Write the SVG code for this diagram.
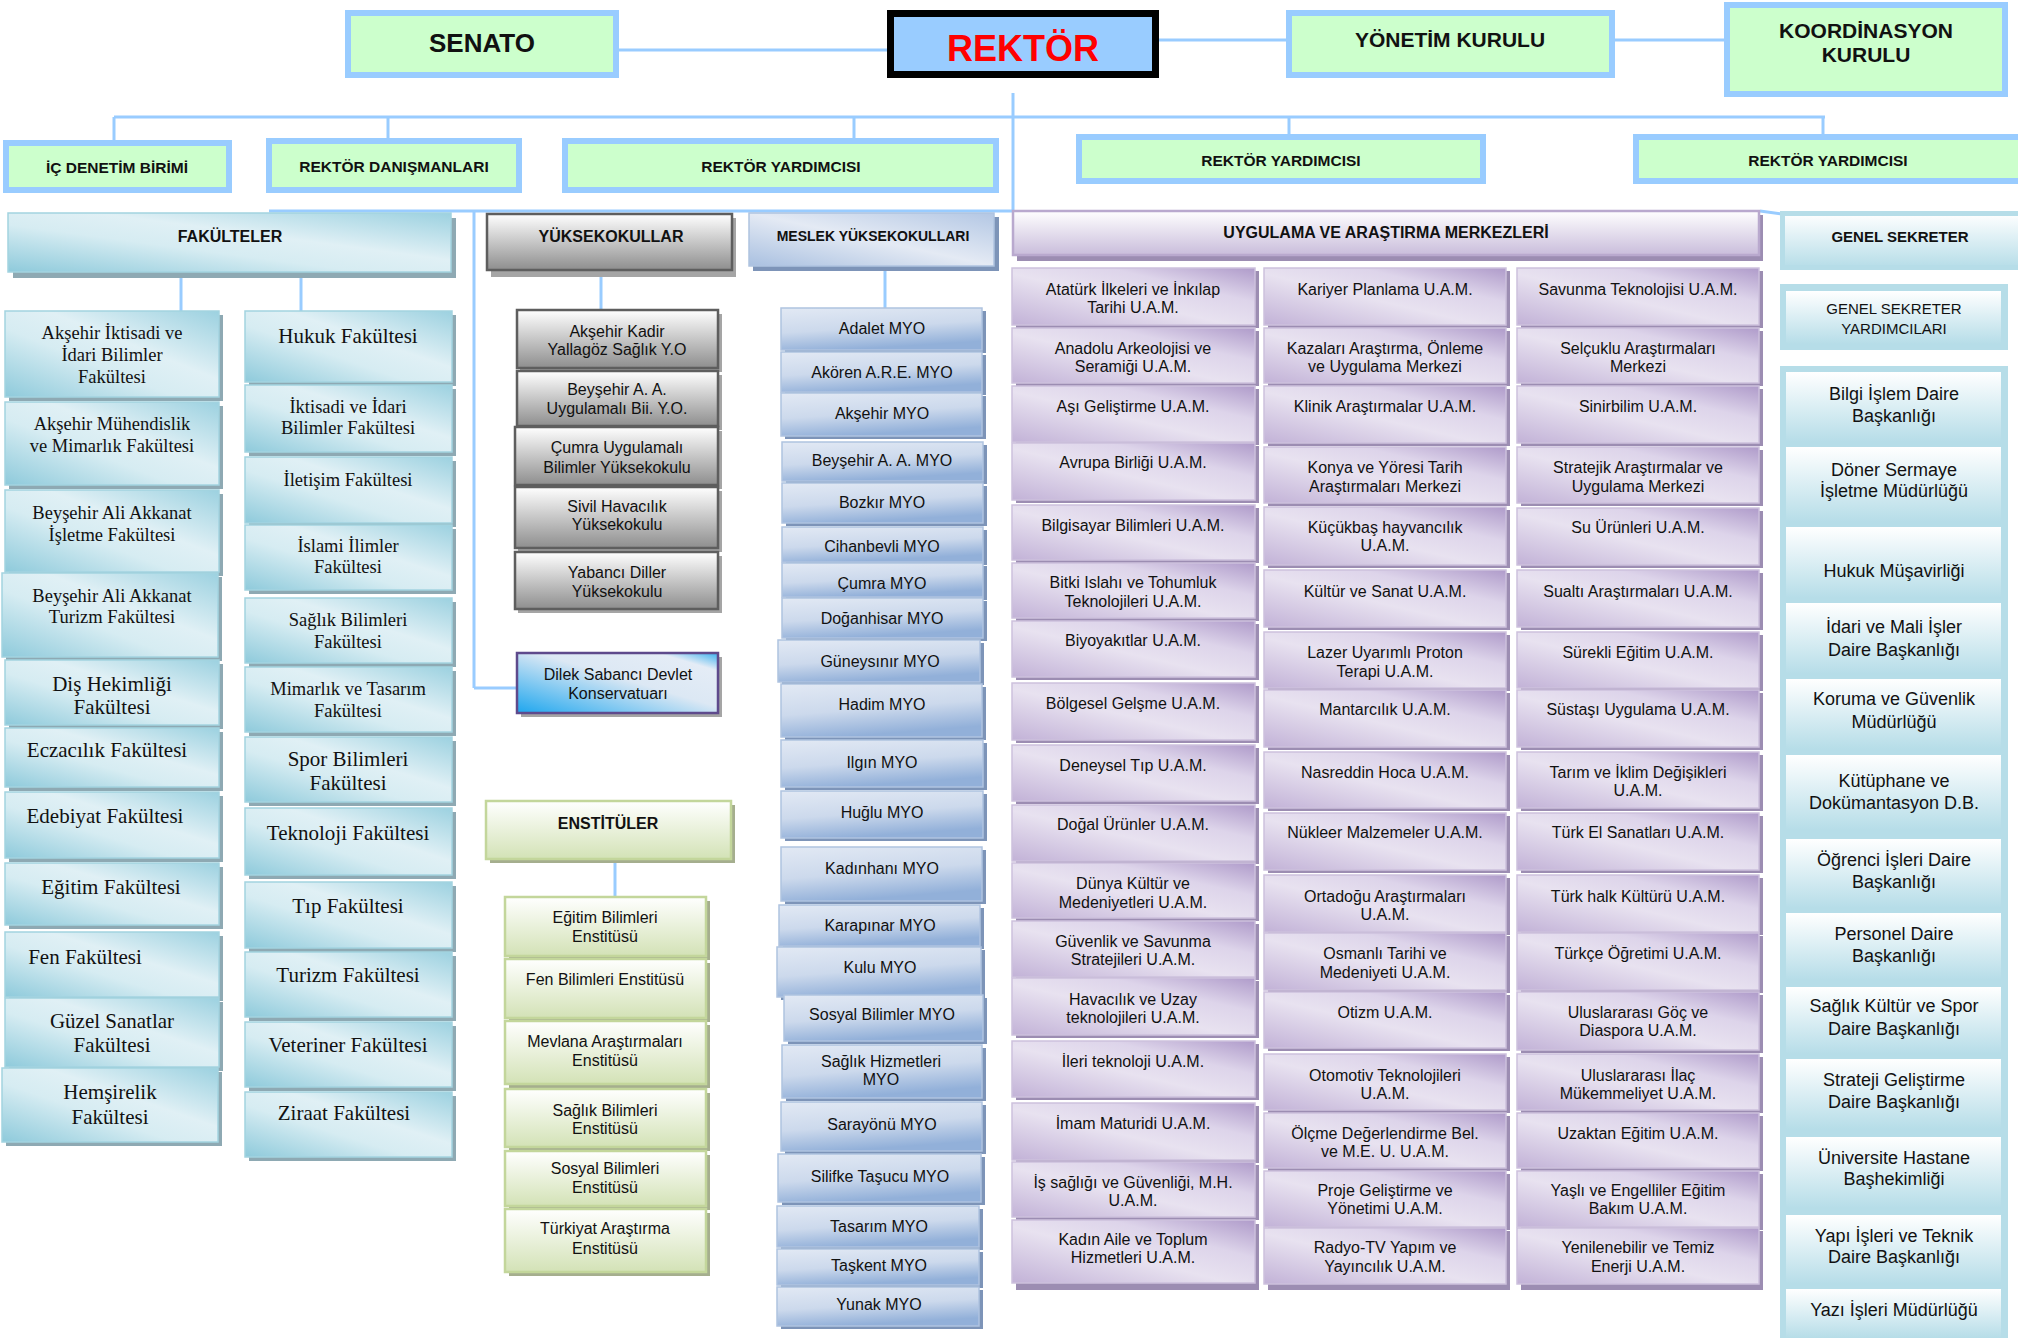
<svg xmlns="http://www.w3.org/2000/svg" width="2018" height="1338" viewBox="0 0 2018 1338">
<defs>
<linearGradient id="gFac" x1="0" y1="1" x2="1" y2="0"><stop offset="0" stop-color="#8ECADB"/><stop offset="0.4" stop-color="#D6ECF2"/><stop offset="0.6" stop-color="#E0F0F5"/><stop offset="1" stop-color="#9CD1E0"/></linearGradient>
<linearGradient id="gMyo" x1="0" y1="0" x2="0.3" y2="1"><stop offset="0" stop-color="#E2E9F4"/><stop offset="0.55" stop-color="#CCD9EC"/><stop offset="1" stop-color="#92B0D9"/></linearGradient>
<linearGradient id="gYo" x1="0" y1="0" x2="0" y2="1"><stop offset="0" stop-color="#FFFFFF"/><stop offset="1" stop-color="#8E8E8E"/></linearGradient>
<linearGradient id="gUam" x1="0" y1="1" x2="1" y2="0"><stop offset="0" stop-color="#C2B2D7"/><stop offset="0.45" stop-color="#E8E2F0"/><stop offset="0.7" stop-color="#DDD4EA"/><stop offset="1" stop-color="#AF9BCA"/></linearGradient>
<linearGradient id="gEns" x1="0" y1="0" x2="0" y2="1"><stop offset="0" stop-color="#FFFFFF"/><stop offset="1" stop-color="#D3E2B6"/></linearGradient>
<linearGradient id="gGs" x1="0" y1="0" x2="0" y2="1"><stop offset="0" stop-color="#FFFFFF"/><stop offset="1" stop-color="#B6DDE8"/></linearGradient>
<linearGradient id="gDilek" x1="0" y1="1" x2="1" y2="0"><stop offset="0" stop-color="#1DA6EE"/><stop offset="0.55" stop-color="#DCE8F4"/><stop offset="0.85" stop-color="#E4ECF6"/><stop offset="1" stop-color="#3AB0EE"/></linearGradient>
<linearGradient id="gMsl" x1="0" y1="1" x2="1" y2="0"><stop offset="0" stop-color="#A9C0E0"/><stop offset="0.5" stop-color="#E4EAF4"/><stop offset="1" stop-color="#B3C7E4"/></linearGradient>
<linearGradient id="gUamH" x1="0" y1="0" x2="0" y2="1"><stop offset="0" stop-color="#FFFFFF"/><stop offset="1" stop-color="#C9BDDB"/></linearGradient>
<style>
.top{fill:#CCFFCC;stroke:#99CCFF;stroke-width:6}
.ln{stroke:#99CCFF;stroke-width:3;fill:none}
.fac{fill:url(#gFac);stroke:#A3D3E0;stroke-width:1.5}
.sf{fill:#8EA9B3}
.yo{fill:url(#gYo);stroke:#5E5E5E;stroke-width:2.5}
.sy{fill:#A5A5A5}
.myo{fill:url(#gMyo);stroke:#AFC3E0;stroke-width:1.5}
.sm{fill:#7D94B8}
.ens{fill:url(#gEns);stroke:#C3D69B;stroke-width:2.5}
.se{fill:#A5AE8E}
.uam{fill:url(#gUam);stroke:#CDC1DD;stroke-width:1.5}
.su{fill:#9C8DB2}
.gs{fill:url(#gGs)}
text{font-family:"Liberation Sans",Arial,sans-serif;fill:#111;text-anchor:middle}
.s16{font-size:16px}
.s18{font-size:18px}
.s15{font-size:15px}
.b{font-weight:bold}
.r18{font-family:"Liberation Serif","Times New Roman",serif;font-size:18.5px}
.r21{font-family:"Liberation Serif","Times New Roman",serif;font-size:21px}
</style>
</defs>
<rect x="0" y="0" width="2018" height="1338" fill="#FFFFFF"/>

<g id="connectors">
<line class="ln" x1="619" y1="50" x2="887" y2="50"/>
<line class="ln" x1="1159" y1="40" x2="1286" y2="40"/>
<line class="ln" x1="1615" y1="40" x2="1724" y2="40"/>
<line class="ln" x1="1013" y1="93" x2="1013" y2="212"/>
<line class="ln" x1="114" y1="117" x2="1825" y2="117"/>
<line class="ln" x1="114" y1="117" x2="114" y2="140"/>
<line class="ln" x1="388" y1="117" x2="388" y2="138"/>
<line class="ln" x1="854" y1="117" x2="854" y2="138"/>
<line class="ln" x1="1289" y1="117" x2="1289" y2="134"/>
<line class="ln" x1="1823" y1="117" x2="1823" y2="134"/>
<line class="ln" x1="269" y1="211" x2="1013" y2="211"/>
<line class="ln" x1="474" y1="211" x2="474" y2="688"/>
<line class="ln" x1="474" y1="688" x2="517" y2="688"/>
<line class="ln" x1="1760" y1="211" x2="1782" y2="214"/>
<line class="ln" x1="181" y1="276" x2="181" y2="311"/>
<line class="ln" x1="301" y1="276" x2="301" y2="311"/>
<line class="ln" x1="601" y1="273" x2="601" y2="310"/>
<line class="ln" x1="885" y1="270" x2="885" y2="308"/>
<line class="ln" x1="615" y1="859" x2="615" y2="897"/>
</g>

<g id="senato"><rect class="top" x="348" y="13" width="268" height="62"/><text class="b" style="font-size:26px" x="482" y="52">SENATO</text></g>
<g id="rektor"><rect x="890.5" y="13.5" width="265" height="61" fill="#99CCFF" stroke="#000000" stroke-width="7"/><text class="b" style="font-size:36px;fill:#FF0000" x="1023" y="61">REKTÖR</text></g>
<g id="yonetim"><rect class="top" x="1289" y="13" width="323" height="62"/><text class="b" style="font-size:21px" x="1450" y="47">YÖNETİM KURULU</text></g>
<g id="koordinasyon"><rect class="top" x="1727" y="5" width="278" height="89"/><text class="b" style="font-size:21px"><tspan x="1866" y="38">KOORDİNASYON</tspan><tspan x="1866" y="62">KURULU</tspan></text></g>

<g id="ic-denetim"><rect class="top" x="6" y="143" width="223" height="47"/><text class="b" style="font-size:15.5px" x="117" y="173">İÇ DENETİM BİRİMİ</text></g>
<g id="rektor-danismanlari"><rect class="top" x="269" y="141" width="250" height="49"/><text class="b" style="font-size:15.5px" x="394" y="172">REKTÖR DANIŞMANLARI</text></g>
<g id="rektor-yrd-1"><rect class="top" x="565" y="141" width="431" height="49"/><text class="b" style="font-size:15.5px" x="781" y="172">REKTÖR YARDIMCISI</text></g>
<g id="rektor-yrd-2"><rect class="top" x="1079" y="137" width="404" height="44"/><text class="b" style="font-size:15.5px" x="1281" y="166">REKTÖR YARDIMCISI</text></g>
<g id="rektor-yrd-3"><rect class="top" x="1636" y="137" width="385" height="44"/><text class="b" style="font-size:15.5px" x="1828" y="166">REKTÖR YARDIMCISI</text></g>

<g id="fakulteler"><rect class="sf" x="13" y="218" width="443" height="60"/><rect class="fac" x="8" y="213" width="443" height="59"/><text class="b s16" x="230" y="242">FAKÜLTELER</text></g>
<g id="yuksekokullar"><rect class="sy" x="491" y="218" width="245" height="59"/><rect class="yo" x="487" y="214" width="245" height="56"/><text class="b s16" x="611" y="242">YÜKSEKOKULLAR</text></g>
<g id="meslek-yuksekokullari"><rect class="sm" x="753" y="217" width="246" height="54"/><rect class="myo" style="fill:url(#gMsl)" x="749" y="213" width="245" height="53"/><text class="b" style="font-size:14px" x="873" y="241">MESLEK YÜKSEKOKULLARI</text></g>
<g id="uam-baslik"><rect class="su" x="1017" y="215" width="746" height="46"/><rect x="1013" y="211" width="746" height="44" fill="url(#gUamH)" stroke="#B9A9CE" stroke-width="2.5"/><text class="b s16" x="1386" y="238">UYGULAMA VE ARAŞTIRMA MERKEZLERİ</text></g>
<g id="genel-sekreter"><rect class="gs" x="1782.5" y="213.5" width="238" height="54" stroke="#B6DDE8" stroke-width="5"/><text class="b s15" x="1900" y="242">GENEL SEKRETER</text></g>

<g id="fak-l1"><rect class="sf" x="9" y="315" width="214" height="86"/><rect class="fac" x="5" y="311" width="214" height="86"/><text class="r18"><tspan x="112" y="339">Akşehir İktisadi ve</tspan><tspan x="112" y="361">İdari Bilimler</tspan><tspan x="112" y="383">Fakültesi</tspan></text></g>
<g id="fak-l2"><rect class="sf" x="9" y="406" width="214" height="83"/><rect class="fac" x="5" y="402" width="214" height="83"/><text class="r18"><tspan x="112" y="430">Akşehir Mühendislik</tspan><tspan x="112" y="452">ve Mimarlık Fakültesi</tspan></text></g>
<g id="fak-l3"><rect class="sf" x="9" y="494" width="214" height="82"/><rect class="fac" x="5" y="490" width="214" height="82"/><text class="r18"><tspan x="112" y="519">Beyşehir Ali Akkanat</tspan><tspan x="112" y="541">İşletme Fakültesi</tspan></text></g>
<g id="fak-l4"><rect class="sf" x="6" y="577" width="216" height="84"/><rect class="fac" x="2" y="573" width="216" height="84"/><text class="r18"><tspan x="112" y="602">Beyşehir Ali Akkanat</tspan><tspan x="112" y="623">Turizm Fakültesi</tspan></text></g>
<g id="fak-l5"><rect class="sf" x="9" y="664" width="214" height="65"/><rect class="fac" x="5" y="660" width="214" height="65"/><text class="r21"><tspan x="112" y="691">Diş Hekimliği</tspan><tspan x="112" y="714">Fakültesi</tspan></text></g>
<g id="fak-l6"><rect class="sf" x="9" y="732" width="214" height="59"/><rect class="fac" x="5" y="728" width="214" height="59"/><text class="r21" x="107" y="757">Eczacılık Fakültesi</text></g>
<g id="fak-l7"><rect class="sf" x="9" y="796" width="214" height="66"/><rect class="fac" x="5" y="792" width="214" height="66"/><text class="r21" x="105" y="823">Edebiyat Fakültesi</text></g>
<g id="fak-l8"><rect class="sf" x="9" y="867" width="214" height="62"/><rect class="fac" x="5" y="863" width="214" height="62"/><text class="r21" x="111" y="894">Eğitim Fakültesi</text></g>
<g id="fak-l9"><rect class="sf" x="9" y="936" width="214" height="65"/><rect class="fac" x="5" y="932" width="214" height="65"/><text class="r21" x="85" y="964">Fen Fakültesi</text></g>
<g id="fak-l10"><rect class="sf" x="9" y="1002" width="214" height="69"/><rect class="fac" x="5" y="998" width="214" height="69"/><text class="r21"><tspan x="112" y="1028">Güzel Sanatlar</tspan><tspan x="112" y="1052">Fakültesi</tspan></text></g>
<g id="fak-l11"><rect class="sf" x="6" y="1072" width="216" height="74"/><rect class="fac" x="2" y="1068" width="216" height="74"/><text class="r21"><tspan x="110" y="1099">Hemşirelik</tspan><tspan x="110" y="1124">Fakültesi</tspan></text></g>

<g id="fak-r1"><rect class="sf" x="249" y="315" width="207" height="71"/><rect class="fac" x="245" y="311" width="207" height="71"/><text class="r21" x="348" y="343">Hukuk Fakültesi</text></g>
<g id="fak-r2"><rect class="sf" x="249" y="389" width="207" height="67"/><rect class="fac" x="245" y="385" width="207" height="67"/><text class="r18"><tspan x="348" y="413">İktisadi ve İdari</tspan><tspan x="348" y="434">Bilimler Fakültesi</tspan></text></g>
<g id="fak-r3"><rect class="sf" x="249" y="461" width="207" height="66"/><rect class="fac" x="245" y="457" width="207" height="66"/><text class="r18" x="348" y="486">İletişim Fakültesi</text></g>
<g id="fak-r4"><rect class="sf" x="249" y="529" width="207" height="65"/><rect class="fac" x="245" y="525" width="207" height="65"/><text class="r18"><tspan x="348" y="552">İslami İlimler</tspan><tspan x="348" y="573">Fakültesi</tspan></text></g>
<g id="fak-r5"><rect class="sf" x="249" y="602" width="207" height="65"/><rect class="fac" x="245" y="598" width="207" height="65"/><text class="r18"><tspan x="348" y="626">Sağlık Bilimleri</tspan><tspan x="348" y="648">Fakültesi</tspan></text></g>
<g id="fak-r6"><rect class="sf" x="249" y="671" width="207" height="65"/><rect class="fac" x="245" y="667" width="207" height="65"/><text class="r18"><tspan x="348" y="695">Mimarlık ve Tasarım</tspan><tspan x="348" y="717">Fakültesi</tspan></text></g>
<g id="fak-r7"><rect class="sf" x="249" y="741" width="207" height="65"/><rect class="fac" x="245" y="737" width="207" height="65"/><text class="r21"><tspan x="348" y="766">Spor Bilimleri</tspan><tspan x="348" y="790">Fakültesi</tspan></text></g>
<g id="fak-r8"><rect class="sf" x="249" y="812" width="207" height="67"/><rect class="fac" x="245" y="808" width="207" height="67"/><text class="r21" x="348" y="840">Teknoloji Fakültesi</text></g>
<g id="fak-r9"><rect class="sf" x="249" y="886" width="207" height="66"/><rect class="fac" x="245" y="882" width="207" height="66"/><text class="r21" x="348" y="913">Tıp Fakültesi</text></g>
<g id="fak-r10"><rect class="sf" x="249" y="956" width="207" height="65"/><rect class="fac" x="245" y="952" width="207" height="65"/><text class="r21" x="348" y="982">Turizm Fakültesi</text></g>
<g id="fak-r11"><rect class="sf" x="249" y="1026" width="207" height="65"/><rect class="fac" x="245" y="1022" width="207" height="65"/><text class="r21" x="348" y="1052">Veteriner Fakültesi</text></g>
<g id="fak-r12"><rect class="sf" x="249" y="1096" width="207" height="65"/><rect class="fac" x="245" y="1092" width="207" height="65"/><text class="r21" x="344" y="1120">Ziraat Fakültesi</text></g>

<g id="yo-1"><rect class="sy" x="520" y="314" width="202" height="58"/><rect class="yo" x="517" y="310" width="201" height="58"/><text class="s16"><tspan x="617" y="337">Akşehir Kadir</tspan><tspan x="617" y="355">Yallagöz Sağlık Y.O</tspan></text></g>
<g id="yo-2"><rect class="sy" x="520" y="375" width="202" height="55"/><rect class="yo" x="517" y="371" width="201" height="55"/><text class="s16"><tspan x="617" y="395">Beyşehir A. A.</tspan><tspan x="617" y="414">Uygulamalı Bii. Y.O.</tspan></text></g>
<g id="yo-3"><rect class="sy" x="518" y="431" width="204" height="58"/><rect class="yo" x="515" y="427" width="203" height="58"/><text class="s16"><tspan x="617" y="453">Çumra Uygulamalı</tspan><tspan x="617" y="473">Bilimler Yüksekokulu</tspan></text></g>
<g id="yo-4"><rect class="sy" x="518" y="491" width="204" height="61"/><rect class="yo" x="515" y="487" width="203" height="61"/><text class="s16"><tspan x="617" y="512">Sivil Havacılık</tspan><tspan x="617" y="530">Yüksekokulu</tspan></text></g>
<g id="yo-5"><rect class="sy" x="518" y="556" width="204" height="57"/><rect class="yo" x="515" y="552" width="203" height="57"/><text class="s16"><tspan x="617" y="578">Yabancı Diller</tspan><tspan x="617" y="597">Yüksekokulu</tspan></text></g>
<g id="konservatuar"><rect class="sy" x="521" y="657" width="201" height="60"/><rect x="517" y="653" width="201" height="60" fill="url(#gDilek)" stroke="#5E4A8C" stroke-width="2.5"/><text class="s16"><tspan x="618" y="680">Dilek Sabancı Devlet</tspan><tspan x="618" y="699">Konservatuarı</tspan></text></g>

<g id="ens-baslik"><rect class="se" x="490" y="805" width="245" height="58"/><rect class="ens" x="486" y="801" width="245" height="58"/><text class="b s16" x="608" y="829">ENSTİTÜLER</text></g>
<g id="ens-1"><rect class="se" x="509" y="901" width="201" height="59"/><rect class="ens" x="505" y="897" width="201" height="59"/><text class="s16"><tspan x="605" y="923">Eğitim Bilimleri</tspan><tspan x="605" y="942">Enstitüsü</tspan></text></g>
<g id="ens-2"><rect class="se" x="509" y="963" width="201" height="59"/><rect class="ens" x="505" y="959" width="201" height="59"/><text class="s16" x="605" y="985">Fen Bilimleri Enstitüsü</text></g>
<g id="ens-3"><rect class="se" x="509" y="1025" width="201" height="63"/><rect class="ens" x="505" y="1021" width="201" height="63"/><text class="s16"><tspan x="605" y="1047">Mevlana Araştırmaları</tspan><tspan x="605" y="1066">Enstitüsü</tspan></text></g>
<g id="ens-4"><rect class="se" x="509" y="1093" width="201" height="58"/><rect class="ens" x="505" y="1089" width="201" height="58"/><text class="s16"><tspan x="605" y="1116">Sağlık Bilimleri</tspan><tspan x="605" y="1134">Enstitüsü</tspan></text></g>
<g id="ens-5"><rect class="se" x="509" y="1155" width="201" height="55"/><rect class="ens" x="505" y="1151" width="201" height="55"/><text class="s16"><tspan x="605" y="1174">Sosyal Bilimleri</tspan><tspan x="605" y="1193">Enstitüsü</tspan></text></g>
<g id="ens-6"><rect class="se" x="509" y="1213" width="201" height="63"/><rect class="ens" x="505" y="1209" width="201" height="63"/><text class="s16"><tspan x="605" y="1234">Türkiyat Araştırma</tspan><tspan x="605" y="1254">Enstitüsü</tspan></text></g>

<g id="myo-1"><rect class="sm" x="785" y="311" width="201" height="42"/><rect class="myo" x="781" y="308" width="201" height="42"/><text class="s16" x="882" y="334">Adalet MYO</text></g>
<g id="myo-2"><rect class="sm" x="785" y="355" width="201" height="40"/><rect class="myo" x="781" y="352" width="201" height="40"/><text class="s16" x="882" y="378">Akören A.R.E. MYO</text></g>
<g id="myo-3"><rect class="sm" x="785" y="396" width="201" height="43"/><rect class="myo" x="781" y="393" width="201" height="43"/><text class="s16" x="882" y="419">Akşehir MYO</text></g>
<g id="myo-4"><rect class="sm" x="786" y="445" width="201" height="39"/><rect class="myo" x="782" y="442" width="201" height="39"/><text class="s16" x="882" y="466">Beyşehir A. A. MYO</text></g>
<g id="myo-5"><rect class="sm" x="786" y="486" width="201" height="40"/><rect class="myo" x="782" y="483" width="201" height="40"/><text class="s16" x="882" y="508">Bozkır MYO</text></g>
<g id="myo-6"><rect class="sm" x="786" y="530" width="201" height="35"/><rect class="myo" x="782" y="527" width="201" height="35"/><text class="s16" x="882" y="552">Cihanbevli MYO</text></g>
<g id="myo-7"><rect class="sm" x="786" y="566" width="201" height="34"/><rect class="myo" x="782" y="563" width="201" height="34"/><text class="s16" x="882" y="589">Çumra MYO</text></g>
<g id="myo-8"><rect class="sm" x="786" y="601" width="201" height="40"/><rect class="myo" x="782" y="598" width="201" height="40"/><text class="s16" x="882" y="624">Doğanhisar MYO</text></g>
<g id="myo-9"><rect class="sm" x="782" y="643" width="202" height="42"/><rect class="myo" x="778" y="640" width="202" height="42"/><text class="s16" x="880" y="667">Güneysınır MYO</text></g>
<g id="myo-10"><rect class="sm" x="785" y="687" width="201" height="53"/><rect class="myo" x="781" y="684" width="201" height="53"/><text class="s16" x="882" y="710">Hadim MYO</text></g>
<g id="myo-11"><rect class="sm" x="785" y="743" width="202" height="47"/><rect class="myo" x="781" y="740" width="202" height="47"/><text class="s16" x="882" y="768">Ilgın MYO</text></g>
<g id="myo-12"><rect class="sm" x="785" y="794" width="202" height="47"/><rect class="myo" x="781" y="791" width="202" height="47"/><text class="s16" x="882" y="818">Huğlu MYO</text></g>
<g id="myo-13"><rect class="sm" x="785" y="850" width="201" height="54"/><rect class="myo" x="781" y="847" width="201" height="54"/><text class="s16" x="882" y="874">Kadınhanı MYO</text></g>
<g id="myo-14"><rect class="sm" x="783" y="908" width="201" height="41"/><rect class="myo" x="779" y="905" width="201" height="41"/><text class="s16" x="880" y="931">Karapınar MYO</text></g>
<g id="myo-15"><rect class="sm" x="781" y="950" width="204" height="50"/><rect class="myo" x="777" y="947" width="204" height="50"/><text class="s16" x="880" y="973">Kulu MYO</text></g>
<g id="myo-16"><rect class="sm" x="788" y="998" width="199" height="46"/><rect class="myo" x="784" y="995" width="199" height="46"/><text class="s16" x="882" y="1020">Sosyal Bilimler MYO</text></g>
<g id="myo-17"><rect class="sm" x="786" y="1048" width="200" height="53"/><rect class="myo" x="782" y="1045" width="200" height="53"/><text class="s16"><tspan x="881" y="1067">Sağlık Hizmetleri</tspan><tspan x="881" y="1085">MYO</tspan></text></g>
<g id="myo-18"><rect class="sm" x="785" y="1105" width="201" height="49"/><rect class="myo" x="781" y="1102" width="201" height="49"/><text class="s16" x="882" y="1130">Sarayönü MYO</text></g>
<g id="myo-19"><rect class="sm" x="782" y="1157" width="203" height="48"/><rect class="myo" x="778" y="1154" width="203" height="48"/><text class="s16" x="880" y="1182">Silifke Taşucu MYO</text></g>
<g id="myo-20"><rect class="sm" x="781" y="1209" width="202" height="41"/><rect class="myo" x="777" y="1206" width="202" height="41"/><text class="s16" x="879" y="1232">Tasarım MYO</text></g>
<g id="myo-21"><rect class="sm" x="781" y="1252" width="202" height="36"/><rect class="myo" x="777" y="1249" width="202" height="36"/><text class="s16" x="879" y="1271">Taşkent MYO</text></g>
<g id="myo-22"><rect class="sm" x="781" y="1290" width="202" height="39"/><rect class="myo" x="777" y="1287" width="202" height="39"/><text class="s16" x="879" y="1310">Yunak MYO</text></g>

<g id="uam-1-1"><rect class="su" x="1016" y="271" width="243" height="57"/><rect class="uam" x="1012" y="268" width="243" height="57"/><text class="s16"><tspan x="1133" y="295">Atatürk İlkeleri ve İnkılap</tspan><tspan x="1133" y="313">Tarihi U.A.M.</tspan></text></g>
<g id="uam-1-2"><rect class="su" x="1016" y="331" width="243" height="55"/><rect class="uam" x="1012" y="328" width="243" height="55"/><text class="s16"><tspan x="1133" y="354">Anadolu Arkeolojisi ve</tspan><tspan x="1133" y="372">Seramiği U.A.M.</tspan></text></g>
<g id="uam-1-3"><rect class="su" x="1016" y="389" width="243" height="56"/><rect class="uam" x="1012" y="386" width="243" height="56"/><text class="s16" x="1133" y="412">Aşı Geliştirme U.A.M.</text></g>
<g id="uam-1-4"><rect class="su" x="1016" y="446" width="243" height="57"/><rect class="uam" x="1012" y="443" width="243" height="57"/><text class="s16" x="1133" y="468">Avrupa Birliği  U.A.M.</text></g>
<g id="uam-1-5"><rect class="su" x="1016" y="508" width="243" height="55"/><rect class="uam" x="1012" y="505" width="243" height="55"/><text class="s16" x="1133" y="531">Bilgisayar Bilimleri U.A.M.</text></g>
<g id="uam-1-6"><rect class="su" x="1016" y="566" width="243" height="55"/><rect class="uam" x="1012" y="563" width="243" height="55"/><text class="s16"><tspan x="1133" y="588">Bitki Islahı ve Tohumluk</tspan><tspan x="1133" y="607">Teknolojileri  U.A.M.</tspan></text></g>
<g id="uam-1-7"><rect class="su" x="1016" y="624" width="243" height="56"/><rect class="uam" x="1012" y="621" width="243" height="56"/><text class="s16" x="1133" y="646">Biyoyakıtlar  U.A.M.</text></g>
<g id="uam-1-8"><rect class="su" x="1016" y="686" width="243" height="57"/><rect class="uam" x="1012" y="683" width="243" height="57"/><text class="s16" x="1133" y="709">Bölgesel Gelşme U.A.M.</text></g>
<g id="uam-1-9"><rect class="su" x="1016" y="748" width="243" height="56"/><rect class="uam" x="1012" y="745" width="243" height="56"/><text class="s16" x="1133" y="771">Deneysel Tıp  U.A.M.</text></g>
<g id="uam-1-10"><rect class="su" x="1016" y="808" width="243" height="56"/><rect class="uam" x="1012" y="805" width="243" height="56"/><text class="s16" x="1133" y="830">Doğal Ürünler U.A.M.</text></g>
<g id="uam-1-11"><rect class="su" x="1016" y="866" width="243" height="55"/><rect class="uam" x="1012" y="863" width="243" height="55"/><text class="s16"><tspan x="1133" y="889">Dünya Kültür ve</tspan><tspan x="1133" y="908">Medeniyetleri U.A.M.</tspan></text></g>
<g id="uam-1-12"><rect class="su" x="1016" y="924" width="243" height="56"/><rect class="uam" x="1012" y="921" width="243" height="56"/><text class="s16"><tspan x="1133" y="947">Güvenlik ve Savunma</tspan><tspan x="1133" y="965">Stratejileri U.A.M.</tspan></text></g>
<g id="uam-1-13"><rect class="su" x="1016" y="981" width="243" height="57"/><rect class="uam" x="1012" y="978" width="243" height="57"/><text class="s16"><tspan x="1133" y="1005">Havacılık ve Uzay</tspan><tspan x="1133" y="1023">teknolojileri U.A.M.</tspan></text></g>
<g id="uam-1-14"><rect class="su" x="1016" y="1044" width="243" height="56"/><rect class="uam" x="1012" y="1041" width="243" height="56"/><text class="s16" x="1133" y="1067">İleri teknoloji U.A.M.</text></g>
<g id="uam-1-15"><rect class="su" x="1016" y="1106" width="243" height="57"/><rect class="uam" x="1012" y="1103" width="243" height="57"/><text class="s16" x="1133" y="1129">İmam Maturidi U.A.M.</text></g>
<g id="uam-1-16"><rect class="su" x="1016" y="1165" width="243" height="55"/><rect class="uam" x="1012" y="1162" width="243" height="55"/><text class="s16"><tspan x="1133" y="1188">İş sağlığı ve Güvenliği, M.H.</tspan><tspan x="1133" y="1206">U.A.M.</tspan></text></g>
<g id="uam-1-17"><rect class="su" x="1016" y="1224" width="243" height="66"/><rect class="uam" x="1012" y="1220" width="243" height="63"/><text class="s16"><tspan x="1133" y="1245">Kadın Aile ve Toplum</tspan><tspan x="1133" y="1263">Hizmetleri U.A.M.</tspan></text></g>

<g id="uam-2-1"><rect class="su" x="1268" y="271" width="242" height="57"/><rect class="uam" x="1264" y="268" width="242" height="57"/><text class="s16" x="1385" y="295">Kariyer Planlama U.A.M.</text></g>
<g id="uam-2-2"><rect class="su" x="1268" y="331" width="242" height="55"/><rect class="uam" x="1264" y="328" width="242" height="55"/><text class="s16"><tspan x="1385" y="354">Kazaları Araştırma, Önleme</tspan><tspan x="1385" y="372">ve Uygulama Merkezi</tspan></text></g>
<g id="uam-2-3"><rect class="su" x="1268" y="389" width="242" height="57"/><rect class="uam" x="1264" y="386" width="242" height="57"/><text class="s16" x="1385" y="412">Klinik Araştırmalar U.A.M.</text></g>
<g id="uam-2-4"><rect class="su" x="1268" y="450" width="242" height="56"/><rect class="uam" x="1264" y="447" width="242" height="56"/><text class="s16"><tspan x="1385" y="473">Konya ve Yöresi Tarih</tspan><tspan x="1385" y="492">Araştırmaları Merkezi</tspan></text></g>
<g id="uam-2-5"><rect class="su" x="1268" y="510" width="242" height="58"/><rect class="uam" x="1264" y="507" width="242" height="58"/><text class="s16"><tspan x="1385" y="533">Küçükbaş hayvancılık</tspan><tspan x="1385" y="551">U.A.M.</tspan></text></g>
<g id="uam-2-6"><rect class="su" x="1268" y="573" width="242" height="57"/><rect class="uam" x="1264" y="570" width="242" height="57"/><text class="s16" x="1385" y="597">Kültür ve Sanat U.A.M.</text></g>
<g id="uam-2-7"><rect class="su" x="1268" y="635" width="242" height="56"/><rect class="uam" x="1264" y="632" width="242" height="56"/><text class="s16"><tspan x="1385" y="658">Lazer Uyarımlı Proton</tspan><tspan x="1385" y="677">Terapi U.A.M.</tspan></text></g>
<g id="uam-2-8"><rect class="su" x="1268" y="693" width="242" height="57"/><rect class="uam" x="1264" y="690" width="242" height="57"/><text class="s16" x="1385" y="715">Mantarcılık  U.A.M.</text></g>
<g id="uam-2-9"><rect class="su" x="1268" y="755" width="242" height="56"/><rect class="uam" x="1264" y="752" width="242" height="56"/><text class="s16" x="1385" y="778">Nasreddin Hoca U.A.M.</text></g>
<g id="uam-2-10"><rect class="su" x="1268" y="816" width="242" height="57"/><rect class="uam" x="1264" y="813" width="242" height="57"/><text class="s16" x="1385" y="838">Nükleer Malzemeler U.A.M.</text></g>
<g id="uam-2-11"><rect class="su" x="1268" y="878" width="242" height="57"/><rect class="uam" x="1264" y="875" width="242" height="57"/><text class="s16"><tspan x="1385" y="902">Ortadoğu Araştırmaları</tspan><tspan x="1385" y="920">U.A.M.</tspan></text></g>
<g id="uam-2-12"><rect class="su" x="1268" y="936" width="242" height="57"/><rect class="uam" x="1264" y="933" width="242" height="57"/><text class="s16"><tspan x="1385" y="959">Osmanlı Tarihi ve</tspan><tspan x="1385" y="978">Medeniyeti U.A.M.</tspan></text></g>
<g id="uam-2-13"><rect class="su" x="1268" y="995" width="242" height="56"/><rect class="uam" x="1264" y="992" width="242" height="56"/><text class="s16" x="1385" y="1018">Otizm U.A.M.</text></g>
<g id="uam-2-14"><rect class="su" x="1268" y="1057" width="242" height="56"/><rect class="uam" x="1264" y="1054" width="242" height="56"/><text class="s16"><tspan x="1385" y="1081">Otomotiv Teknolojileri</tspan><tspan x="1385" y="1099">U.A.M.</tspan></text></g>
<g id="uam-2-15"><rect class="su" x="1268" y="1116" width="242" height="55"/><rect class="uam" x="1264" y="1113" width="242" height="55"/><text class="s16"><tspan x="1385" y="1139">Ölçme Değerlendirme Bel.</tspan><tspan x="1385" y="1157">ve M.E. U.  U.A.M.</tspan></text></g>
<g id="uam-2-16"><rect class="su" x="1268" y="1174" width="242" height="56"/><rect class="uam" x="1264" y="1171" width="242" height="56"/><text class="s16"><tspan x="1385" y="1196">Proje Geliştirme ve</tspan><tspan x="1385" y="1214">Yönetimi U.A.M.</tspan></text></g>
<g id="uam-2-17"><rect class="su" x="1268" y="1231" width="242" height="59"/><rect class="uam" x="1264" y="1228" width="242" height="56"/><text class="s16"><tspan x="1385" y="1253">Radyo-TV Yapım ve</tspan><tspan x="1385" y="1272">Yayıncılık U.A.M.</tspan></text></g>

<g id="uam-3-1"><rect class="su" x="1521" y="271" width="242" height="57"/><rect class="uam" x="1517" y="268" width="242" height="57"/><text class="s16" x="1638" y="295">Savunma Teknolojisi U.A.M.</text></g>
<g id="uam-3-2"><rect class="su" x="1521" y="331" width="242" height="55"/><rect class="uam" x="1517" y="328" width="242" height="55"/><text class="s16"><tspan x="1638" y="354">Selçuklu Araştırmaları</tspan><tspan x="1638" y="372">Merkezi</tspan></text></g>
<g id="uam-3-3"><rect class="su" x="1521" y="389" width="242" height="57"/><rect class="uam" x="1517" y="386" width="242" height="57"/><text class="s16" x="1638" y="412">Sinirbilim U.A.M.</text></g>
<g id="uam-3-4"><rect class="su" x="1521" y="450" width="242" height="56"/><rect class="uam" x="1517" y="447" width="242" height="56"/><text class="s16"><tspan x="1638" y="473">Stratejik Araştırmalar ve</tspan><tspan x="1638" y="492">Uygulama Merkezi</tspan></text></g>
<g id="uam-3-5"><rect class="su" x="1521" y="511" width="242" height="57"/><rect class="uam" x="1517" y="508" width="242" height="57"/><text class="s16" x="1638" y="533">Su Ürünleri  U.A.M.</text></g>
<g id="uam-3-6"><rect class="su" x="1521" y="573" width="242" height="57"/><rect class="uam" x="1517" y="570" width="242" height="57"/><text class="s16" x="1638" y="597">Sualtı Araştırmaları U.A.M.</text></g>
<g id="uam-3-7"><rect class="su" x="1521" y="635" width="242" height="56"/><rect class="uam" x="1517" y="632" width="242" height="56"/><text class="s16" x="1638" y="658">Sürekli Eğitim U.A.M.</text></g>
<g id="uam-3-8"><rect class="su" x="1521" y="693" width="242" height="57"/><rect class="uam" x="1517" y="690" width="242" height="57"/><text class="s16" x="1638" y="715">Süstaşı Uygulama U.A.M.</text></g>
<g id="uam-3-9"><rect class="su" x="1521" y="755" width="242" height="56"/><rect class="uam" x="1517" y="752" width="242" height="56"/><text class="s16"><tspan x="1638" y="778">Tarım ve İklim Değişikleri</tspan><tspan x="1638" y="796">U.A.M.</tspan></text></g>
<g id="uam-3-10"><rect class="su" x="1521" y="816" width="242" height="57"/><rect class="uam" x="1517" y="813" width="242" height="57"/><text class="s16" x="1638" y="838">Türk El Sanatları U.A.M.</text></g>
<g id="uam-3-11"><rect class="su" x="1521" y="878" width="242" height="57"/><rect class="uam" x="1517" y="875" width="242" height="57"/><text class="s16" x="1638" y="902">Türk halk Kültürü U.A.M.</text></g>
<g id="uam-3-12"><rect class="su" x="1521" y="936" width="242" height="57"/><rect class="uam" x="1517" y="933" width="242" height="57"/><text class="s16" x="1638" y="959">Türkçe Öğretimi U.A.M.</text></g>
<g id="uam-3-13"><rect class="su" x="1521" y="995" width="242" height="58"/><rect class="uam" x="1517" y="992" width="242" height="58"/><text class="s16"><tspan x="1638" y="1018">Uluslararası Göç ve</tspan><tspan x="1638" y="1036">Diaspora U.A.M.</tspan></text></g>
<g id="uam-3-14"><rect class="su" x="1521" y="1057" width="242" height="56"/><rect class="uam" x="1517" y="1054" width="242" height="56"/><text class="s16"><tspan x="1638" y="1081">Uluslararası İlaç</tspan><tspan x="1638" y="1099">Mükemmeliyet U.A.M.</tspan></text></g>
<g id="uam-3-15"><rect class="su" x="1521" y="1116" width="242" height="55"/><rect class="uam" x="1517" y="1113" width="242" height="55"/><text class="s16" x="1638" y="1139">Uzaktan Eğitim  U.A.M.</text></g>
<g id="uam-3-16"><rect class="su" x="1521" y="1174" width="242" height="56"/><rect class="uam" x="1517" y="1171" width="242" height="56"/><text class="s16"><tspan x="1638" y="1196">Yaşlı ve Engelliler Eğitim</tspan><tspan x="1638" y="1214">Bakım U.A.M.</tspan></text></g>
<g id="uam-3-17"><rect class="su" x="1521" y="1231" width="242" height="59"/><rect class="uam" x="1517" y="1228" width="242" height="56"/><text class="s16"><tspan x="1638" y="1253">Yenilenebilir ve Temiz</tspan><tspan x="1638" y="1272">Enerji  U.A.M.</tspan></text></g>

<g id="gs-yardimcilari"><rect x="1780" y="284" width="228" height="66" fill="#B6DDE8"/><rect class="gs" x="1786" y="291" width="215" height="53"/><text class="s15"><tspan x="1894" y="314">GENEL SEKRETER</tspan><tspan x="1894" y="334">YARDIMCILARI</tspan></text></g>
<rect id="gs-panel" x="1780" y="366" width="228" height="972" fill="#B6DDE8"/>
<g id="gs-1"><rect class="gs" x="1786" y="372" width="215" height="70"/><text class="s18"><tspan x="1894" y="400">Bilgi İşlem Daire</tspan><tspan x="1894" y="422">Başkanlığı</tspan></text></g>
<g id="gs-2"><rect class="gs" x="1786" y="447" width="215" height="75"/><text class="s18"><tspan x="1894" y="476">Döner Sermaye</tspan><tspan x="1894" y="497">İşletme Müdürlüğü</tspan></text></g>
<g id="gs-3"><rect class="gs" x="1786" y="527" width="215" height="71"/><text class="s18" x="1894" y="577">Hukuk Müşavirliği</text></g>
<g id="gs-4"><rect class="gs" x="1786" y="603" width="215" height="71"/><text class="s18"><tspan x="1894" y="633">İdari ve Mali İşler</tspan><tspan x="1894" y="656">Daire Başkanlığı</tspan></text></g>
<g id="gs-5"><rect class="gs" x="1786" y="679" width="215" height="70"/><text class="s18"><tspan x="1894" y="705">Koruma ve Güvenlik</tspan><tspan x="1894" y="728">Müdürlüğü</tspan></text></g>
<g id="gs-6"><rect class="gs" x="1786" y="755" width="215" height="75"/><text class="s18"><tspan x="1894" y="787">Kütüphane ve</tspan><tspan x="1894" y="809">Dokümantasyon D.B.</tspan></text></g>
<g id="gs-7"><rect class="gs" x="1786" y="839" width="215" height="69"/><text class="s18"><tspan x="1894" y="866">Öğrenci İşleri Daire</tspan><tspan x="1894" y="888">Başkanlığı</tspan></text></g>
<g id="gs-8"><rect class="gs" x="1786" y="913" width="215" height="67"/><text class="s18"><tspan x="1894" y="940">Personel Daire</tspan><tspan x="1894" y="962">Başkanlığı</tspan></text></g>
<g id="gs-9"><rect class="gs" x="1786" y="987" width="215" height="67"/><text class="s18"><tspan x="1894" y="1012">Sağlık Kültür ve Spor</tspan><tspan x="1894" y="1035">Daire Başkanlığı</tspan></text></g>
<g id="gs-10"><rect class="gs" x="1786" y="1059" width="215" height="70"/><text class="s18"><tspan x="1894" y="1086">Strateji Geliştirme</tspan><tspan x="1894" y="1108">Daire Başkanlığı</tspan></text></g>
<g id="gs-11"><rect class="gs" x="1786" y="1137" width="215" height="71"/><text class="s18"><tspan x="1894" y="1164">Üniversite Hastane</tspan><tspan x="1894" y="1185">Başhekimliği</tspan></text></g>
<g id="gs-12"><rect class="gs" x="1786" y="1215" width="215" height="69"/><text class="s18"><tspan x="1894" y="1242">Yapı İşleri ve Teknik</tspan><tspan x="1894" y="1263">Daire Başkanlığı</tspan></text></g>
<g id="gs-13"><rect class="gs" x="1786" y="1289" width="215" height="49"/><text class="s18" x="1894" y="1316">Yazı İşleri Müdürlüğü</text></g>
</svg>
